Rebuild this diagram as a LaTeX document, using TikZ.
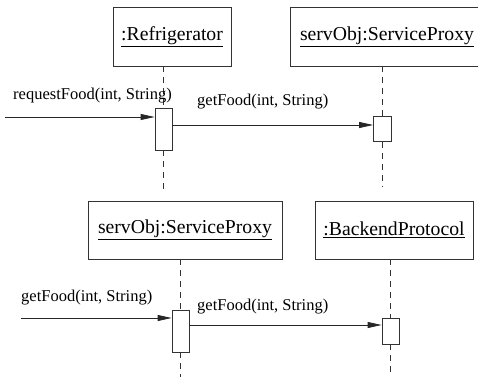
\documentclass[tikz,border=0pt]{standalone}
\usepackage{fontspec}
\setmainfont{Liberation Serif}
\usepackage{tikz}
\usetikzlibrary{arrows.meta}
\tikzset{object/.style={draw, black!80, line width=0.8pt, text=black,
        minimum height=59pt, inner sep=0pt, font=\fontsize{19.7}{22}\selectfont},
    activation/.style={draw, black!80, line width=0.8pt, fill=white,
        minimum width=17pt, inner sep=0pt},
    lifeline/.style={draw, black!80, line width=0.8pt, dash pattern=on 6pt off 5pt},
    msg/.style={draw, black!85, line width=0.8pt, -{Triangle[length=14pt,width=6pt]}},
    msglabel/.style={anchor=west, inner sep=0pt, font=\fontsize{16.5}{19}\selectfont}}

\begin{document}
\begin{tikzpicture}[x=1pt, y=-1pt]
        \clip (0,0) rectangle (478,377);
        \useasboundingbox (0,0) rectangle (478,377);
        % upper diagram
        \node[object, minimum width=118pt] (fridge) at (172,36.5) {\underline{:Refrigerator}};
        \node[object, minimum width=194pt] (proxyA) at (387,36.5) {\underline{servObj:ServiceProxy}};
        \node[activation, minimum height=42pt] (fridgeAct) at (163.5,129) {};
        \node[activation, minimum height=25pt, minimum width=18pt] (proxyAAct) at (382.5,129) {};
        \coordinate (fridgeEnd) at (163.5,192);
        \coordinate (proxyAEnd) at (382.5,186);
        \coordinate (reqIn) at (5,117);
        \draw[lifeline] (fridge.south -| fridgeAct) -- (fridgeAct.north);
        \draw[lifeline] (fridgeAct.south) -- (fridgeEnd);
        \draw[lifeline] (proxyA.south -| proxyAAct) -- (proxyAAct.north);
        \draw[lifeline] (proxyAAct.south) -- (proxyAEnd);
        \draw[msg] (reqIn) -- (reqIn -| fridgeAct.west);
        \draw[msg] ([yshift=4pt]fridgeAct.east) -- ([yshift=4pt]proxyAAct.west);
        \node[msglabel] (reqLabel) at (13,96) {requestFood(int, String)};
        \node[msglabel] (getLabelA) at (197,102) {getFood(int, String)};
        % lower diagram
        \node[object, minimum width=194pt, minimum height=58pt] (proxyB) at (185,230) {\underline{servObj:ServiceProxy}};
        \node[object, minimum width=158pt, minimum height=58pt] (backend) at (394,230) {\underline{:BackendProtocol}};
        \node[activation, minimum height=42pt] (proxyBAct) at (180.5,331) {};
        \node[activation, minimum height=26pt] (backendAct) at (390.5,331) {};
        \coordinate (proxyBEnd) at (180.5,377);
        \coordinate (backendEnd) at (390.5,377);
        \coordinate (getIn) at (21,318);
        \draw[lifeline] (proxyB.south -| proxyBAct) -- (proxyBAct.north);
        \draw[lifeline] (proxyBAct.south) -- (proxyBEnd);
        \draw[lifeline] (backend.south -| backendAct) -- (backendAct.north);
        \draw[lifeline] (backendAct.south) -- (backendEnd);
        \draw[msg] (getIn) -- (getIn -| proxyBAct.west);
        \draw[msg] ([yshift=6pt]proxyBAct.east) -- ([yshift=6pt]backendAct.west);
        \node[msglabel] (getLabelB) at (21,298) {getFood(int, String)};
        \node[msglabel] (getLabelC) at (197,307) {getFood(int, String)};
    \end{tikzpicture}
\end{document}
